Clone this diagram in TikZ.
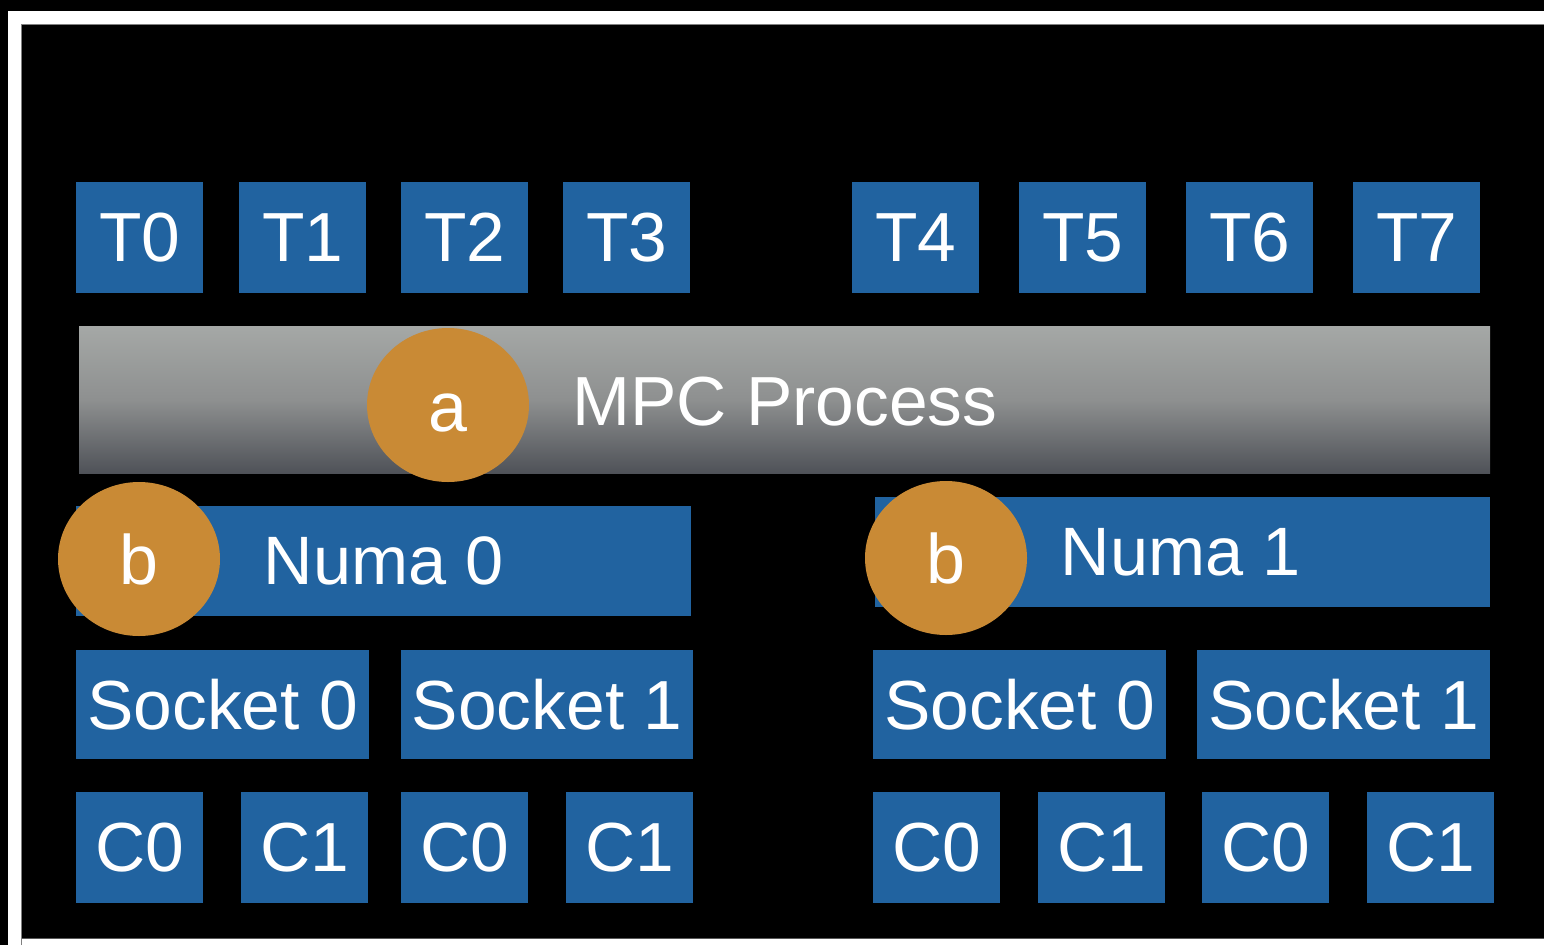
\documentclass[tikz,border=0pt]{standalone}
\usepackage{fontspec}
\setmainfont{Liberation Sans}
\usetikzlibrary{shapes.geometric}
\definecolor{tileblue}{HTML}{2163A0}
\definecolor{badge}{HTML}{C98A35}
\definecolor{bartop}{HTML}{A5A8A6}
\definecolor{barmid}{HTML}{8E9090}
\definecolor{barbot}{HTML}{4F5258}
\tikzset{
  tile/.style={fill=tileblue, text=white, inner sep=0pt, font=\fontsize{69.5}{70}\selectfont},
  badgecirc/.style={ellipse, fill=badge, text=white, inner sep=0pt,
    minimum width=162pt, minimum height=154pt, font=\fontsize{70}{70}\selectfont},
}
\begin{document}
\begin{tikzpicture}[x=1pt,y=-1pt]
  \useasboundingbox (0,0) rectangle (1544,945);
  % frame
  \fill[black] (0,0) rectangle (1544,945);
  \fill[white] (8,11) rectangle (1544,945);
  \fill[black] (22,25) rectangle (1544,938);
  \draw[gray, line width=1pt] (21.5,945) -- (21.5,24.5) -- (1544,24.5);
  \draw[gray!70!black, line width=1pt] (21.5,938.5) -- (1544,938.5);

  % threads
  \foreach \n/\x in {0/76,1/239,2/401,3/563,4/852,5/1019,6/1186,7/1353}{
    \node[tile, minimum width=127pt, minimum height=111pt, anchor=north west]
      (t\n) at (\x,182) {T\n};
  }

  % process bar
  \shade[top color=bartop, bottom color=barbot, middle color=barmid] (79,326) rectangle (1490,473);
  \node[text=white, font=\fontsize{69.5}{70}\selectfont] (mpc) at (785,402) {MPC Process};
  \node[badgecirc, label={[text=white, font=\fontsize{70}{70}\selectfont, yshift=-8pt]center:a}] (a) at (448,405) {};

  % numa domains
  \node[tile, minimum width=615pt, minimum height=110pt, anchor=north west, font=\fontsize{68.5}{70}\selectfont]
    (numa0) at (76,506) {Numa 0};
  \node[tile, minimum width=615pt, minimum height=110pt, anchor=north west, font=\fontsize{68.5}{70}\selectfont]
    (numa1) at (875,497) {\hspace*{-4pt}Numa 1};
  \node[badgecirc] (b0) at (139,559) {b};
  \node[badgecirc] (b1) at (946,558) {b};

  % sockets
  \node[tile, minimum width=293pt, minimum height=109pt, anchor=north west] (s00) at (76,650) {Socket 0};
  \node[tile, minimum width=292pt, minimum height=109pt, anchor=north west] (s01) at (401,650) {Socket 1};
  \node[tile, minimum width=293pt, minimum height=109pt, anchor=north west] (s10) at (873,650) {Socket 0};
  \node[tile, minimum width=293pt, minimum height=109pt, anchor=north west] (s11) at (1197,650) {Socket 1};

  % cores
  \foreach \i/\x/\c in {0/76/C0,1/241/C1,2/401/C0,3/566/C1,4/873/C0,5/1038/C1,6/1202/C0,7/1367/C1}{
    \node[tile, minimum width=127pt, minimum height=111pt, anchor=north west]
      (c\i) at (\x,792) {\c};
  }
\end{tikzpicture}
\end{document}
